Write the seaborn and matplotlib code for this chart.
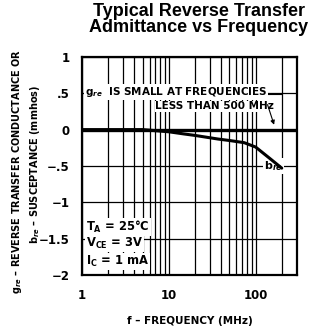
import numpy as np
import pandas as pd
import matplotlib
matplotlib.use("Agg")
import matplotlib.pyplot as plt
import seaborn as sns

# ============================
# DATA
# ============================
freq_b = [1, 5, 10, 15, 20, 37, 50, 74, 100, 140, 200]
b_re = [0, 0, -0.03, -0.06, -0.08, -0.13, -0.15, -0.18, -0.24, -0.38, -0.53]
freq_g = [1, 300]
g_re = [0, 0]

y_ticks = [1, 0.5, 0, -0.5, -1, -1.5, -2]
y_labels = ["1", ".5", "0", "\u2212.5", "\u22121", "\u22121.5", "\u22122"]
x_ticks = [1, 10, 100]
x_labels = ["1", "10", "100"]

sns.set_style("white")
plt.rcParams["font.family"] = ["Liberation Sans Narrow", "DejaVu Sans"]
plt.rcParams["mathtext.fontset"] = "custom"
plt.rcParams["mathtext.rm"] = "Liberation Sans Narrow"
plt.rcParams["mathtext.it"] = "Liberation Sans Narrow:italic:bold"
plt.rcParams["mathtext.bf"] = "Liberation Sans Narrow:bold"
for key in ["text.color", "axes.labelcolor", "xtick.color", "ytick.color"]:
    plt.rcParams[key] = "black"

fig = plt.figure(figsize=(3.13, 3.27), dpi=100)
ax = fig.add_axes([0.262, 0.159, 0.687, 0.667])

df_b = pd.DataFrame({"f": freq_b, "v": b_re})
df_g = pd.DataFrame({"f": freq_g, "v": g_re})
sns.lineplot(data=df_g, x="f", y="v", ax=ax, color="black", lw=2.4, zorder=5)
sns.lineplot(data=df_b, x="f", y="v", ax=ax, color="black", lw=2.2, zorder=5)

ax.set_xscale("log")
ax.set_xlim(1, 300)
ax.set_ylim(-2, 1)
ax.set_xticks(x_ticks)
ax.set_xticklabels(x_labels)
ax.set_yticks(y_ticks)
ax.set_yticklabels(y_labels)
ax.minorticks_on()
ax.yaxis.set_minor_locator(matplotlib.ticker.NullLocator())
ax.grid(which="major", color="black", lw=0.9)
ax.grid(which="minor", axis="x", color="black", lw=0.9)
ax.tick_params(which="both", length=0)
ax.tick_params(axis="x", pad=10)
ax.tick_params(axis="y", pad=9)
for lab in ax.get_xticklabels() + ax.get_yticklabels():
    lab.set_fontweight("bold")
    lab.set_fontsize(8.5)
for sp in ax.spines.values():
    sp.set_color("black")
    sp.set_linewidth(1.6)
ax.set_xlabel("f \u2013 FREQUENCY (MHz)", fontsize=7.5, fontweight="bold", labelpad=10)
ax.set_ylabel("")

# annotations
ax.text(1.08, 0.52, "$\\mathbf{g}_{\\mathit{re}}$  IS SMALL AT FREQUENCIES", fontsize=7.5,
        fontweight="bold", va="center", ha="left",
        bbox=dict(facecolor="white", edgecolor="none", pad=0.5))
ax.text(7.0, 0.32, "LESS THAN 500 MHz", fontsize=7.5, fontweight="bold", va="center",
        ha="left", bbox=dict(facecolor="white", edgecolor="none", pad=0.5))
ax.plot([127, 200], [0.49, 0.49], color="black", lw=0.8)
ax.annotate("", xy=(167, 0.03), xytext=(134, 0.38),
            arrowprops=dict(arrowstyle="-|>", color="black", lw=0.8, mutation_scale=6))
ax.text(125, -0.5, "$\\mathbf{b}_{\\mathit{re}}$", fontsize=8, va="center", ha="left",
        bbox=dict(facecolor="white", edgecolor="none", pad=0.5))

cond = ["$\\mathbf{T_A}$ = 25\u00b0C", "$\\mathbf{V_{CE}}$ = 3V", "$\\mathbf{I_C}$ = 1 mA"]
for txt, yy in zip(cond, [-1.34, -1.57, -1.81]):
    ax.text(1.12, yy, txt, fontsize=8.3, fontweight="bold", va="center", ha="left",
            bbox=dict(facecolor="white", edgecolor="none", pad=0.6))

# y label (two lines)
fig.text(17 / 313, 1 - 171 / 327,
         "$\\mathbf{g}_{\\mathit{re}}$ \u2013 REVERSE TRANSFER CONDUCTANCE OR",
         rotation=90, fontsize=7, fontweight="bold", ha="center", va="center")
fig.text(35 / 313, 1 - 164 / 327,
         "$\\mathbf{b}_{\\mathit{re}}$ \u2013 SUSCEPTANCE (mmhos)",
         rotation=90, fontsize=7, fontweight="bold", ha="center", va="center")

# title
fig.text(199 / 313, 1 - 3 / 327, "Typical Reverse Transfer\nAdmittance vs Frequency",
         family=["Liberation Sans", "DejaVu Sans"], fontsize=13, fontweight="bold",
         ha="center", va="top", linespacing=0.95)

fig.savefig("out.png", dpi=100)
